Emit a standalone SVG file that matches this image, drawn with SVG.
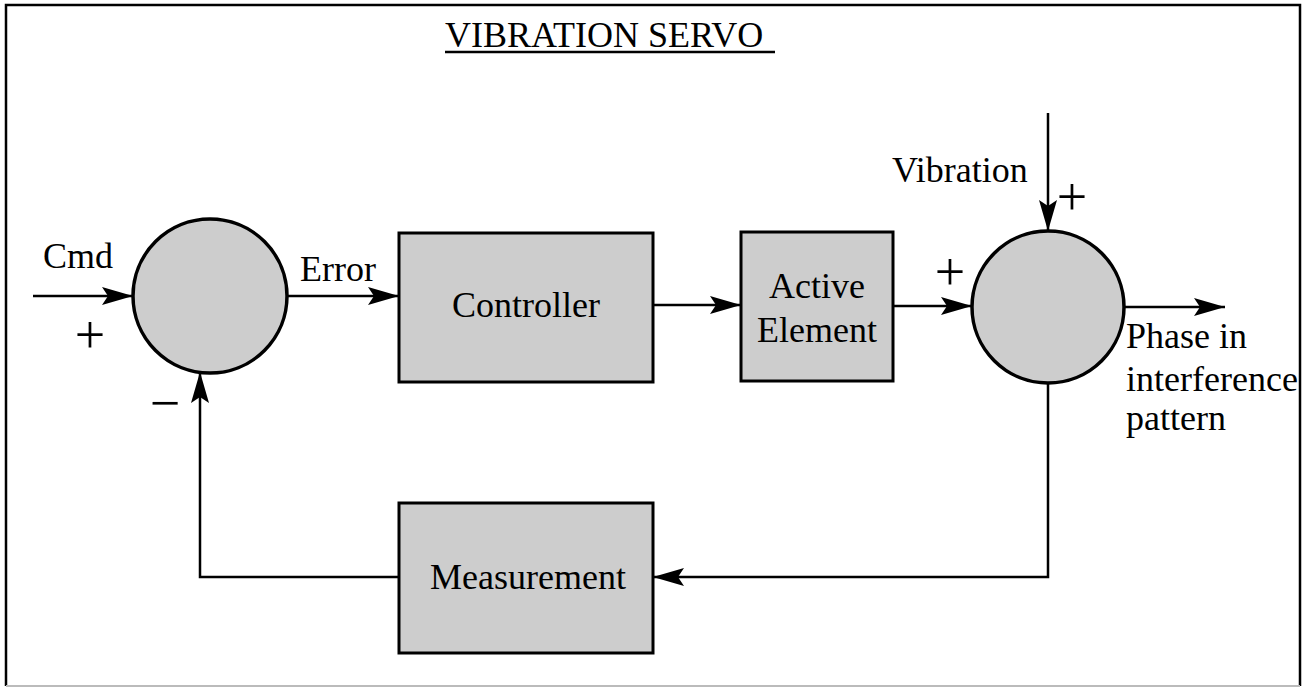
<svg xmlns="http://www.w3.org/2000/svg" width="1303" height="688" viewBox="0 0 1303 688">
<style>
text{font-family:"Liberation Serif","Times New Roman",serif;font-size:36px;fill:#000}
.sign{font-size:54px}
.blk{fill:#cdcdcd;stroke:#000;stroke-width:3}
.sum{fill:#cdcdcd;stroke:#000;stroke-width:3.5}
.wire{fill:none;stroke:#000;stroke-width:2.5}
</style>
<defs>
<marker id="arr" markerUnits="userSpaceOnUse" markerWidth="34" markerHeight="20" refX="31" refY="9" orient="auto">
<path d="M0,0 L31,9 L0,18 L6,9 Z" fill="#000"/>
</marker>
</defs>
<rect width="1303" height="688" fill="#fff"/>
<g id="frame">
<path d="M6,686 V5 H1300 V686" fill="none" stroke="#000" stroke-width="2.5"/>
<line x1="6" y1="686" x2="1300" y2="686" stroke="#bbb" stroke-width="2"/>
</g>
<g id="title">
<text x="445" y="47">VIBRATION SERVO</text>
<line x1="445" y1="52" x2="775" y2="52" stroke="#000" stroke-width="2.5"/>
</g>
<g id="sum1">
<circle class="sum" cx="210" cy="296" r="77"/>
</g>
<g id="controller">
<rect class="blk" x="399" y="233" width="254" height="149"/>
<text x="526" y="317" text-anchor="middle">Controller</text>
</g>
<g id="active">
<rect class="blk" x="741" y="232" width="152" height="149"/>
<text x="817" y="298" text-anchor="middle">Active</text>
<text x="817" y="342" text-anchor="middle">Element</text>
</g>
<g id="sum2">
<circle class="sum" cx="1048" cy="307" r="76"/>
</g>
<g id="measurement">
<rect class="blk" x="399" y="503" width="254" height="150"/>
<text x="528" y="589" text-anchor="middle">Measurement</text>
</g>
<g id="connectors">
<line class="wire" x1="33" y1="296" x2="133" y2="296" marker-end="url(#arr)"/>
<line class="wire" x1="287" y1="296" x2="399" y2="296" marker-end="url(#arr)"/>
<line class="wire" x1="653" y1="305" x2="741" y2="305" marker-end="url(#arr)"/>
<line class="wire" x1="893" y1="306" x2="972" y2="306" marker-end="url(#arr)"/>
<line class="wire" x1="1048" y1="113" x2="1048" y2="231" marker-end="url(#arr)"/>
<line class="wire" x1="1124" y1="307" x2="1225" y2="307" marker-end="url(#arr)"/>
<polyline class="wire" points="1048,383 1048,577 653,577" marker-end="url(#arr)"/>
<polyline class="wire" points="399,577 200,577 200,372" marker-end="url(#arr)"/>
</g>
<g id="labels">
<text x="43" y="268">Cmd</text>
<text x="300" y="281">Error</text>
<text x="892" y="182">Vibration</text>
<text x="1126" y="348">Phase in</text>
<text x="1126" y="391">interference</text>
<text x="1126" y="430">pattern</text>
<text class="sign" x="90" y="353" text-anchor="middle">+</text>
<text class="sign" x="165" y="421" text-anchor="middle">−</text>
<text class="sign" x="950" y="290" text-anchor="middle">+</text>
<text class="sign" x="1072" y="215" text-anchor="middle">+</text>
</g>
</svg>
